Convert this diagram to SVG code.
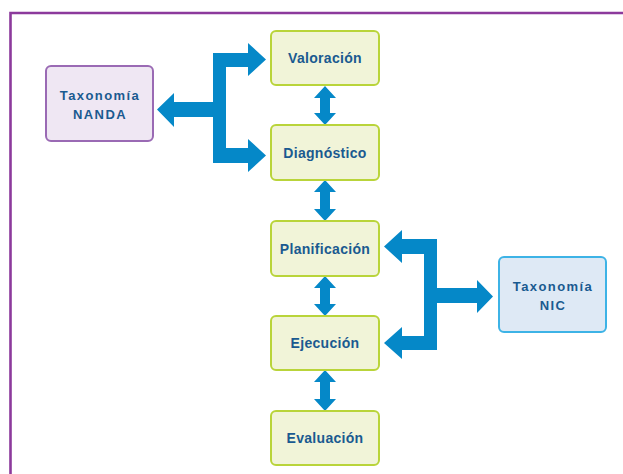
<svg xmlns="http://www.w3.org/2000/svg" width="623" height="474" viewBox="0 0 623 474">
<style>
.g rect{fill:#F1F4D8;stroke:#B9D43A;stroke-width:2}
.nanda rect{fill:#EFE7F3;stroke:#9A6AB4;stroke-width:2}
.nic rect{fill:#DEE9F5;stroke:#3DB3E6;stroke-width:2}
text{font-family:"Liberation Sans",Arial,sans-serif;font-weight:bold;font-size:14px;fill:#1A5A90;text-anchor:middle;letter-spacing:0.3px}
.t2{letter-spacing:1.4px;font-size:13px}
.conn path{fill:#0588C8}
</style>
<rect width="623" height="474" fill="#FFFFFF"/>
<path d="M10.5,474 L10.5,13 L623,13" fill="none" stroke="#8C3A9C" stroke-width="2.6"/>
<g class="conn" id="connectors">
<path d="M213,53 L248,53 L248,43 L266,59.5 L248,76 L248,67 L226,67 L226,148 L248,148 L248,139 L266,155.5 L248,172 L248,163 L213,163 L213,117 L174,117 L174,127 L157,109.5 L174,93 L174,102 L213,102 Z"/>
<path d="M437,239 L437,288 L477,288 L477,280 L493,296.5 L477,313 L477,303 L437,303 L437,350 L402,350 L402,359 L384,343 L402,327 L402,336 L424,336 L424,254 L402,254 L402,263 L384,246.5 L402,230 L402,239 Z"/>
<path d="M325,86 L336,98 L330,98 L330,113 L336,113 L325,125 L314,113 L320,113 L320,98 L314,98 Z"/>
<path d="M325,180 L336,192 L330,192 L330,209 L336,209 L325,221 L314,209 L320,209 L320,192 L314,192 Z"/>
<path d="M325,276 L336,288 L330,288 L330,304 L336,304 L325,316 L314,304 L320,304 L320,288 L314,288 Z"/>
<path d="M325,370 L336,382 L330,382 L330,399 L336,399 L325,411 L314,399 L320,399 L320,382 L314,382 Z"/>
</g>
<g id="valoracion" class="g"><rect x="271" y="31" width="108" height="54" rx="5"/><text x="325" y="62.5">Valoración</text></g>
<g id="diagnostico" class="g"><rect x="271" y="125" width="108" height="55" rx="5"/><text x="325" y="157.5">Diagnóstico</text></g>
<g id="planificacion" class="g"><rect x="271" y="221" width="108" height="55" rx="5"/><text x="325" y="253.5">Planificación</text></g>
<g id="ejecucion" class="g"><rect x="271" y="316" width="108" height="54" rx="5"/><text x="325" y="348">Ejecución</text></g>
<g id="evaluacion" class="g"><rect x="271" y="411" width="108" height="54" rx="5"/><text x="325" y="443">Evaluación</text></g>
<g id="nanda" class="nanda"><rect x="46" y="66" width="107" height="75" rx="5"/><text class="t2" x="100" y="100">Taxonomía</text><text class="t2" x="100" y="119">NANDA</text></g>
<g id="nic" class="nic"><rect x="499" y="257" width="107" height="75" rx="5"/><text class="t2" x="553" y="291">Taxonomía</text><text class="t2" x="553" y="309.5">NIC</text></g>
</svg>
